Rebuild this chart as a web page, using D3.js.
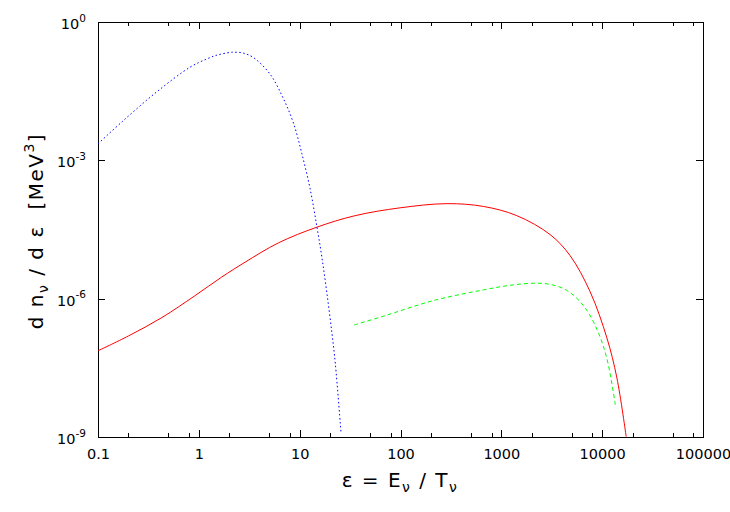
<!DOCTYPE html>
<html>
<head>
<meta charset="utf-8">
<script src="https://cdn.jsdelivr.net/npm/d3@7"></script>
<style>
  body { margin: 0; background: #fff; }
  svg text { font-family: "DejaVu Sans", "Liberation Sans", Arial, sans-serif; fill: #000; }
</style>
</head>
<body>
<div id="chart"></div>
<script>
// axis ticks
const xTicks = [0.1, 1, 10, 100, 1000, 10000, 100000];
const xTickLabels = ["0.1", "1", "10", "100", "1000", "10000", "100000"];
const yTicks = [1e-9, 1e-6, 1e-3, 1];
const yTickExps = ["-9", "-6", "-3", "0"];

// blue dotted curve
const blueEps = [0.1, 0.178, 0.38, 0.82, 1.2, 1.51, 2.04, 2.2, 2.7, 3.47, 5.08, 6.89, 8.7, 10.5, 12.7, 14.8, 16.6, 18.6, 20.9, 22.6, 25.7];
const blueVal = [2.29e-3, 7.24e-3, 3.02e-2, 0.105, 0.158, 0.191, 0.219, 0.221, 0.214, 0.170, 0.0741, 0.0219, 6.31e-3, 1.41e-3, 2.4e-4, 3.72e-5, 7.94e-6, 1.35e-6, 1.78e-7, 3.8e-8, 1.26e-9];

// red solid curve
const redEps = [0.1, 0.2, 0.43, 0.91, 1.69, 2.87, 6.15, 14.8, 35.5, 99, 288, 665, 1425, 3050, 4820, 7600, 11140, 14000, 17300];
const redVal = [7.41e-8, 1.55e-7, 3.89e-7, 1.15e-6, 2.95e-6, 6.17e-6, 1.62e-5, 3.55e-5, 6.31e-5, 9.33e-5, 1.15e-4, 1.0e-4, 6.31e-5, 2.45e-5, 8.51e-6, 1.41e-6, 1.41e-7, 1.91e-8, 1.02e-9];

// green dashed curve
const greenEps = [34.7, 67.7, 213, 665, 1222, 2080, 3050, 4460, 6520, 8850, 11140, 13500];
const greenVal = [2.69e-7, 4.17e-7, 9.12e-7, 1.55e-6, 1.95e-6, 2.16e-6, 2.04e-6, 1.51e-6, 7.08e-7, 2.19e-7, 5.01e-8, 5.01e-9];

const [W, H] = [730, 512];
const margin = { top: 22, right: 27, bottom: 75, left: 98 };
const w = W - margin.left - margin.right;
const h = H - margin.top - margin.bottom;

const svg = d3.select("#chart").append("svg")
  .attr("width", W)
  .attr("height", H);

const g = svg.append("g")
  .attr("transform", `translate(${margin.left}, ${margin.top})`);

const x = d3.scaleLog().domain([0.1, 100000]).range([0, w]);
const y = d3.scaleLog().domain([1e-9, 1]).range([h, 0]);

// minor ticks at 2, 5, 8 of every decade
const xMinor = [];
for (let e = -1; e < 5; e++) {
  [2, 5, 8].forEach((m) => xMinor.push(m * Math.pow(10, e)));
}

function styleAxis(sel) {
  sel.selectAll("path, line")
    .attr("stroke", "#000")
    .attr("stroke-width", 1)
    .attr("shape-rendering", "crispEdges");
  sel.attr("font-family", null).attr("font-size", null);
}

// minor ticks, bottom & top
g.append("g")
  .attr("transform", `translate(0, ${h})`)
  .call(d3.axisBottom(x).tickValues(xMinor).tickFormat("").tickSizeInner(-4).tickSizeOuter(0))
  .call(styleAxis)
  .call((s) => s.select(".domain").remove());
g.append("g")
  .call(d3.axisTop(x).tickValues(xMinor).tickFormat("").tickSizeInner(-4).tickSizeOuter(0))
  .call(styleAxis)
  .call((s) => s.select(".domain").remove());

// major x ticks
const xAxis = g.append("g")
  .attr("transform", `translate(0, ${h})`)
  .call(d3.axisBottom(x).tickValues(xTicks).tickFormat((d, i) => xTickLabels[i])
    .tickSizeInner(-7).tickSizeOuter(0).tickPadding(12))
  .call(styleAxis);
xAxis.selectAll("text").attr("font-size", "14.5px");

g.append("g")
  .call(d3.axisTop(x).tickValues(xTicks).tickFormat("").tickSizeInner(-7).tickSizeOuter(0))
  .call(styleAxis);

// y axes
const yAxis = g.append("g")
  .call(d3.axisLeft(y).tickValues(yTicks).tickFormat("").tickSizeInner(-7).tickSizeOuter(0).tickPadding(12))
  .call(styleAxis);
yAxis.selectAll(".tick text").each(function (d, i) {
  const t = d3.select(this).attr("font-size", "14.5px").attr("y", 2);
  t.append("tspan").text("10");
  t.append("tspan").attr("font-size", "10.5px").attr("dy", "-0.7em").text(yTickExps[i]);
});

g.append("g")
  .attr("transform", `translate(${w}, 0)`)
  .call(d3.axisRight(y).tickValues(yTicks).tickFormat("").tickSizeInner(-7).tickSizeOuter(0))
  .call(styleAxis);

// curves
svg.append("defs").append("clipPath").attr("id", "plot-clip")
  .append("rect").attr("width", w).attr("height", h);

const line = d3.line()
  .x((d) => x(d[0]))
  .y((d) => y(d[1]))
  .curve(d3.curveCatmullRom.alpha(0.5));

const curves = [
  { eps: redEps, val: redVal, color: "#ff0000", dash: null },
  { eps: greenEps, val: greenVal, color: "#00ff00", dash: "4,3" },
  { eps: blueEps, val: blueVal, color: "#0000ff", dash: "1.5,2.5" },
];

const plot = g.append("g").attr("clip-path", "url(#plot-clip)");
curves.forEach((c) => {
  plot.append("path")
    .datum(c.eps.map((e, i) => [e, c.val[i]]))
    .attr("fill", "none")
    .attr("stroke", c.color)
    .attr("stroke-width", 1)
    .attr("stroke-dasharray", c.dash)
    .attr("d", line);
});

// axis titles
const xt = svg.append("text")
  .attr("x", 400)
  .attr("y", 487)
  .attr("text-anchor", "middle")
  .attr("font-size", "20px")
  .attr("letter-spacing", "1.5px");
xt.append("tspan").text("\u03b5 = E");
xt.append("tspan").attr("font-size", "14px").attr("dy", "5").text("\u03bd");
xt.append("tspan").attr("dy", "-5").text(" / T");
xt.append("tspan").attr("font-size", "14px").attr("dy", "5").text("\u03bd");

const yt = svg.append("text")
  .attr("transform", "translate(43, 231) rotate(-90)")
  .attr("text-anchor", "middle")
  .attr("font-size", "20px")
  .attr("letter-spacing", "1.5px");
yt.append("tspan").text("d n");
yt.append("tspan").attr("font-size", "14px").attr("dy", "5").text("\u03bd");
yt.append("tspan").attr("dy", "-5").text(" / d \u03b5 \u00a0[MeV");
yt.append("tspan").attr("font-size", "14px").attr("dy", "-9").text("3");
yt.append("tspan").attr("dy", "9").text("]");
</script>
</body>
</html>
